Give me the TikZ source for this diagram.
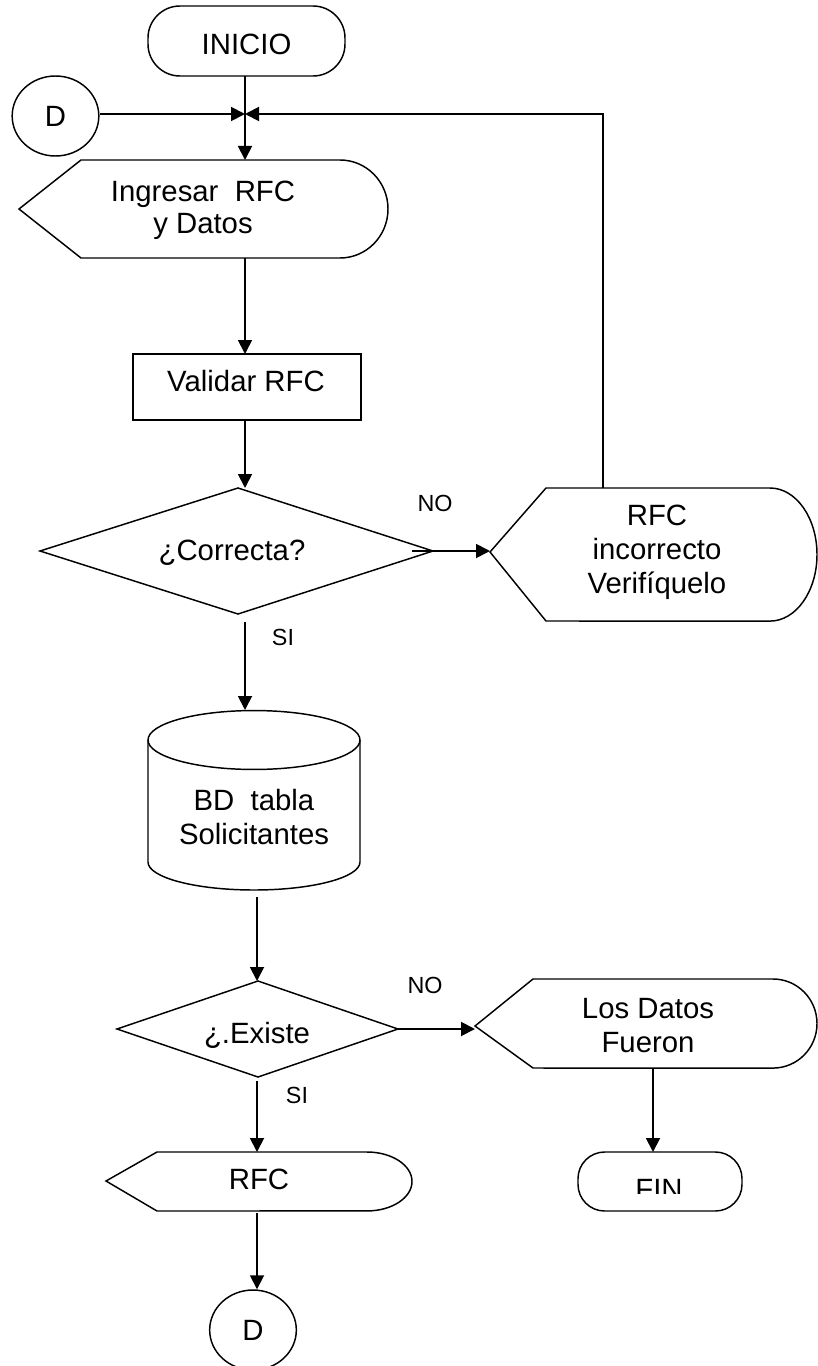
\documentclass[tikz,border=0pt]{standalone}
\usepackage{fontspec}
\setmainfont{Liberation Sans}
\usetikzlibrary{arrows.meta,shapes.geometric}
\begin{document}
\begin{tikzpicture}[x=0.75pt,y=-0.75pt,
  shp/.style={draw=black,line width=1.1pt},
  conn/.style={draw=black,line width=1.4pt,-{Triangle[length=10.5pt,width=10.5pt]}},
  txt/.style={font=\fontsize{22}{25.5}\selectfont,align=center,inner sep=0pt},
  lbl/.style={font=\fontsize{17.5}{20}\selectfont,inner sep=0pt},
  conncircle/.style={shp,ellipse,inner sep=0pt,minimum width=65pt,minimum height=60pt,font=\fontsize{22}{25.5}\selectfont}]
\useasboundingbox (0,0) rectangle (817,1366);

% INICIO
\draw[shp,rounded corners=24pt] (148,6) rectangle (345,76);
\node[txt] (inicio) at (246.5,44) {INICIO};
\coordinate (inicioS) at (245,76);
\coordinate (junc) at (245,114);
\coordinate (ingN) at (245,160);

% D connector (top)
\node[conncircle] (dtop) at (55.5,116) {D};

% Ingresar RFC y Datos
\draw[shp] (81,160) -- (340,160) arc[start angle=90,end angle=-90,x radius=36pt,y radius=36.75pt] -- (81,258) -- (19,209) -- cycle;
\node[txt,font=\fontsize{22}{24}\selectfont] (ingresar) at (203,210) {Ingresar\ \ RFC\\y Datos};
\coordinate (ingS) at (245,258);

% Validar RFC
\draw[shp] (133,354) rectangle (361,420);
\node[txt] (validar) at (246,381) {Validar RFC};
\coordinate (valN) at (245,354);
\coordinate (valS) at (245,420);

% Decision 1
\draw[shp] (40,551) -- (238,488) -- (433,551) -- (238,614) -- cycle;
\node[txt] (correcta) at (232,553) {¿Correcta?};
\coordinate (corrN) at (245,488);
\coordinate (corrE) at (412,551);
\coordinate (corrS) at (245,622);
\node[lbl] (no1) at (435,503) {NO};
\node[lbl] (si1) at (283,637) {SI};

% RFC incorrecto
\draw[shp] (490,552) -- (546,488) -- (770,488) arc[start angle=90,end angle=-90,x radius=35.25pt,y radius=49.9pt] -- (546,621) -- cycle;
\node[txt] (rfcinc) at (657,552) {RFC\\incorrecto\\Verifíquelo};
\coordinate (rfcincW) at (490,551);
\coordinate (rfcincN) at (603,488);

% Cylinder
\draw[shp] (148,740) -- (148,862) arc[start angle=180,end angle=360,x radius=79.5pt,y radius=21pt] -- (360,740);
\draw[shp] (254,740) ellipse [x radius=79.5pt,y radius=22.1pt];
\node[txt] (bd) at (254,817) {BD\ \ tabla\\Solicitantes};
\coordinate (cylN) at (245,710);
\coordinate (cylS) at (257,897);

% Decision 2
\draw[shp] (117,1029) -- (258,981) -- (398,1029) -- (258,1077) -- cycle;
\node[txt] (existe) at (257,1035) {¿.Existe};
\coordinate (exN) at (257,981);
\coordinate (exE) at (398,1029);
\coordinate (exS) at (257,1081);
\node[lbl] (no2) at (425,985) {NO};
\node[lbl] (si2) at (297,1095) {SI};

% Los Datos Fueron
\draw[shp] (475,1026) -- (533,979) -- (773,979) arc[start angle=90,end angle=-90,x radius=33pt,y radius=33.4pt] -- (533,1068) -- cycle;
\node[txt] (datos) at (648,1026) {Los Datos\\Fueron};
\coordinate (datW) at (475,1029);
\coordinate (datS) at (653,1068);

% FIN
\draw[shp,rounded corners=20pt] (578,1152) rectangle (742,1211);
\begin{scope}
\clip (560,1160) rectangle (760,1193);
\node[txt] (fin) at (659,1189) {FIN};
\end{scope}
\coordinate (finN) at (653,1152);

% RFC output
\draw[shp] (106,1181) -- (157,1152) -- (367,1152) arc[start angle=90,end angle=-90,x radius=33.75pt,y radius=22.1pt] -- (157,1211) -- cycle;
\node[txt] (rfc) at (259,1179) {RFC};
\coordinate (rfcN) at (257,1152);
\coordinate (rfcS) at (257,1213);

% D connector (bottom)
\node[conncircle] (dbot) at (253,1330) {D};

% Connectors
\draw[conn] (inicioS) -- (ingN);
\draw[conn] (dtop.east |- junc) -- (junc);
\draw[conn] (rfcincN) |- (junc);
\draw[conn] (ingS) -- (valN);
\draw[conn] (valS) -- (corrN);
\draw[conn] (corrE) -- (rfcincW);
\draw[conn] (corrS) -- (cylN);
\draw[conn] (cylS) -- (exN);
\draw[conn] (exE) -- (datW);
\draw[conn] (datS) -- (finN);
\draw[conn] (exS) -- (rfcN);
\draw[conn] (rfcS) -- (rfcS |- dbot.north);
\end{tikzpicture}
\end{document}
